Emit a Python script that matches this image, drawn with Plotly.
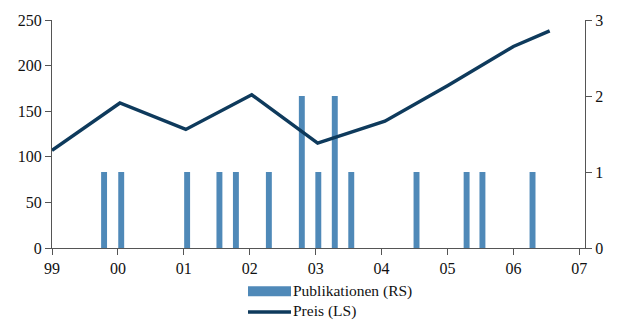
import plotly.graph_objects as go

# Data
year_ticks = [1999, 2000, 2001, 2002, 2003, 2004, 2005, 2006, 2007]
year_labels = ["99", "00", "01", "02", "03", "04", "05", "06", "07"]

pub_x = [1999.79, 2000.05, 2001.05, 2001.54, 2001.79, 2002.29, 2002.79,
         2003.04, 2003.29, 2003.54, 2004.53, 2005.29, 2005.53, 2006.29]
pub_counts = [1, 1, 1, 1, 1, 1, 2, 1, 2, 1, 1, 1, 1, 1]

price_x = [1999.0, 2000.03, 2001.03, 2002.03, 2003.03, 2004.05, 2005.0, 2006.0, 2006.55]
price_vals = [107, 159, 130, 168, 115, 139, 178, 221, 238]

bar_color = "#4f89b8"
line_color = "#0e3a5c"
axis_color = "#555555"
font_family = "Liberation Serif"

fig = go.Figure()
fig.add_trace(go.Bar(x=pub_x, y=pub_counts, width=0.09, marker_color=bar_color,
                     marker_line_width=0, name="Publikationen (RS)", yaxis="y"))
fig.add_trace(go.Scatter(x=price_x, y=price_vals, mode="lines",
                         line=dict(color=line_color, width=3.5),
                         name="Preis (LS)", yaxis="y2"))

fig.update_layout(
    width=629, height=320,
    margin=dict(l=52, r=44, t=16, b=72),
    paper_bgcolor="white", plot_bgcolor="white",
    showlegend=False,
    font=dict(family=font_family, size=16, color="#111111"),
    xaxis=dict(range=[1999, 2007.086], tickvals=year_ticks, ticktext=year_labels,
               showgrid=False, zeroline=False, showline=True, linecolor=axis_color,
               linewidth=1, ticks="outside", ticklen=6, tickcolor=axis_color),
    yaxis=dict(side="right", range=[0, 3], tickvals=[0, 1, 2, 3],
               showgrid=False, zeroline=False, showline=True, linecolor=axis_color,
               linewidth=1, ticks="outside", ticklen=6, tickcolor=axis_color),
    yaxis2=dict(overlaying="y", side="left", range=[0, 250],
                tickvals=[0, 50, 100, 150, 200, 250],
                showgrid=False, zeroline=False, showline=True, linecolor=axis_color,
                linewidth=1, ticks="outside", ticklen=6, tickcolor=axis_color),
)

# Custom legend below the chart
fig.add_shape(type="rect", xref="paper", yref="paper",
              x0=(248 - 52) / 533, x1=(291 - 52) / 533,
              y0=(248 - 297) / 232, y1=(248 - 287) / 232,
              fillcolor=bar_color, line_width=0)
fig.add_shape(type="line", xref="paper", yref="paper",
              x0=(248 - 52) / 533, x1=(291 - 52) / 533,
              y0=(248 - 313) / 232, y1=(248 - 313) / 232,
              line=dict(color=line_color, width=3.5))
fig.add_annotation(text="Publikationen (RS)", xref="paper", yref="paper",
                   x=(291 - 52) / 533, y=(248 - 292) / 232,
                   xanchor="left", yanchor="middle", showarrow=False,
                   font=dict(family=font_family, size=15.5, color="#111111"))
fig.add_annotation(text="Preis (LS)", xref="paper", yref="paper",
                   x=(291 - 52) / 533, y=(248 - 312) / 232,
                   xanchor="left", yanchor="middle", showarrow=False,
                   font=dict(family=font_family, size=15.5, color="#111111"))

fig.write_html("out.html", config={"displayModeBar": False},
               post_script="document.body.style.margin='0';document.body.style.overflow='hidden';")
